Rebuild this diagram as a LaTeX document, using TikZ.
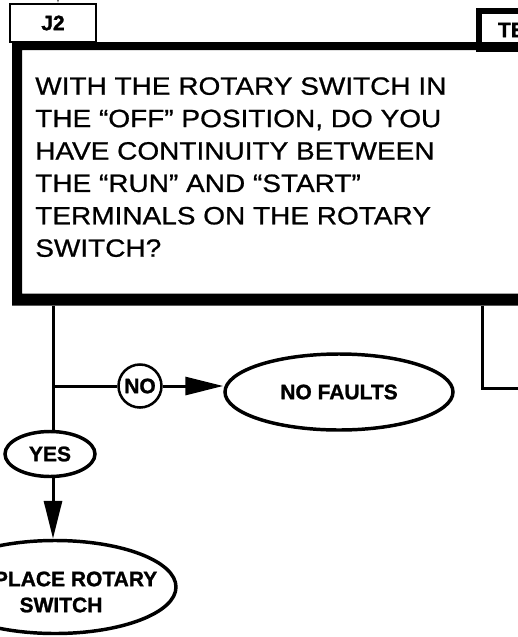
\documentclass[tikz,border=0pt]{standalone}
\usepackage{fontspec}
\setmainfont{Liberation Sans}
\newfontfamily\qfont[FakeStretch=1.12, FakeBold=0.8]{Liberation Sans}
\newfontfamily\lblfont[FakeBold=1.2]{Liberation Sans}
\usetikzlibrary{arrows.meta, shapes.geometric}

\begin{document}
\begin{tikzpicture}[x=0.75pt, y=-0.75pt, >={Triangle[length=28.5pt, width=13.5pt]},
  conn/.style={line width=2.25pt},
  lbl/.style={font=\lblfont\fontsize{15.75pt}{19.5pt}\selectfont\bfseries, align=center},
  tab/.style={draw, line width=1.5pt, minimum width=64.5pt, minimum height=28.5pt, lbl},
  oval/.style={draw, ellipse, line width=2.6pt, inner sep=1pt, lbl}]
  \useasboundingbox (0,0) rectangle (518,637);
  \clip (0,0) rectangle (518,637);

  % tabs on top of the question box
  \node[tab] (j2) at (53,23) {J2};
  \node[tab, line width=4.5pt, anchor=north west, minimum width=0pt, text width=50pt,
    align=left, inner xsep=14.25pt] (te) at (476,8) {TE};
  \coordinate (j2in) at (58,-40);
  \draw[conn, ->] (j2in) -- (j2.north -| j2in);

  % question box, heavy frame on left and bottom
  \node[anchor=north west, minimum width=441pt, minimum height=197.25pt, inner sep=0pt] (q) at (12,42) {};
  \fill[even odd rule] (q.north west) rectangle (q.south east)
    ([shift={(10,8)}]q.north west) rectangle ([shift={(-10,-12)}]q.south east);
  \node[anchor=north west, align=left, inner sep=0pt,
    font=\qfont\fontsize{18.75pt}{24.3pt}\selectfont] (qtext) at (35,77)
    {WITH THE ROTARY SWITCH IN\\THE “OFF” POSITION, DO YOU\\HAVE CONTINUITY BETWEEN\\
     THE “RUN” AND “START”\\TERMINALS ON THE ROTARY\\SWITCH?};

  % answers
  \coordinate (split) at (53,386);
  \node[draw, circle, line width=1.9pt, inner sep=1pt, minimum size=32.25pt, lbl] (no) at (140,386) {NO};
  \node[oval, minimum width=171pt, minimum height=57pt] (nofaults) at (339,392) {NO FAULTS};
  \node[oval, minimum width=67.5pt, minimum height=33.75pt] (yes) at (50,454) {YES};
  \node[oval, minimum width=181.5pt, minimum height=69.75pt,
    label={[lbl, xshift=4.5pt, yshift=-3.75pt]center:REPLACE ROTARY\\SWITCH}] (replace) at (55,587) {};
  \coordinate (rturn) at (482,388);
  \coordinate (rexit) at (540,388);

  \draw[conn] (q.south -| split) -- (split) -- (yes.north -| split);
  \draw[conn] (split) -- (no);
  \draw[conn, ->] (no) -- (nofaults.west |- no);
  \draw[conn, ->] (yes.south -| split) -- (replace.north -| split);
  \draw[conn] (q.south -| rturn) -- (rturn) -- (rexit);
\end{tikzpicture}
\end{document}
